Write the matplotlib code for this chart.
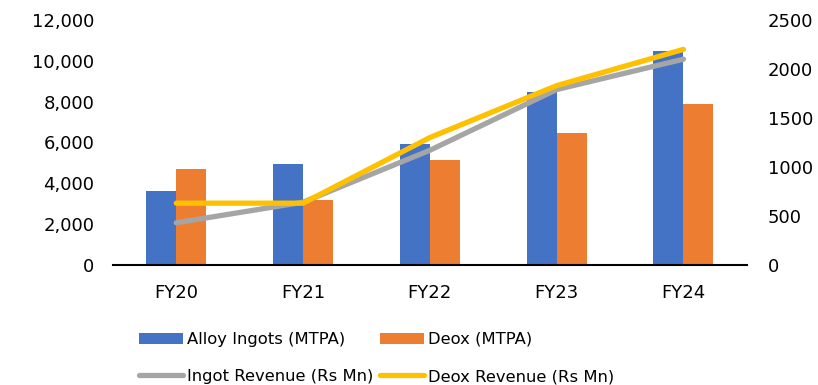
import matplotlib
matplotlib.use("Agg")
import matplotlib.pyplot as plt
import numpy as np

years = ["FY20", "FY21", "FY22", "FY23", "FY24"]
alloy_ingots = [3600, 4950, 5930, 8480, 10500]
deox = [4700, 3200, 5130, 6470, 7860]
ingot_revenue = [430, 640, 1170, 1790, 2100]
deox_revenue = [630, 630, 1300, 1830, 2200]

left_ticks = [0, 2000, 4000, 6000, 8000, 10000, 12000]
right_ticks = [0, 500, 1000, 1500, 2000, 2500]

BLUE = "#4472C4"
ORANGE = "#ED7D31"
GRAY = "#A5A5A5"
GOLD = "#FFC000"

plt.rcParams["font.family"] = ["DejaVu Sans"]
fs = 13
lfs = 11.8

fig = plt.figure(figsize=(8.18, 3.85), dpi=100)
ax = fig.add_axes([0.138, 0.312, 0.775, 0.636])
ax2 = ax.twinx()

x = np.arange(len(years))
w = 0.237
b1 = ax.bar(x - w / 2, alloy_ingots, w, color=BLUE, label="Alloy Ingots (MTPA)", zorder=2)
b2 = ax.bar(x + w / 2, deox, w, color=ORANGE, label="Deox (MTPA)", zorder=2)

l1, = ax2.plot(x, ingot_revenue, color=GRAY, lw=3.8, solid_capstyle="round",
               solid_joinstyle="round", label="Ingot Revenue (Rs Mn)", zorder=3)
l2, = ax2.plot(x, deox_revenue, color=GOLD, lw=3.8, solid_capstyle="round",
               solid_joinstyle="round", label="Deox Revenue (Rs Mn)", zorder=4)

ax.set_xlim(-0.5, len(years) - 0.5)
ax.set_ylim(0, 12000)
ax2.set_ylim(0, 2500)
ax.set_xticks(x)
ax.set_xticklabels(years, fontsize=fs)
ax.set_yticks(left_ticks)
ax.set_yticklabels([f"{v:,}" for v in left_ticks], fontsize=fs)
ax2.set_yticks(right_ticks)
ax2.set_yticklabels([str(v) for v in right_ticks], fontsize=fs)

for a in (ax, ax2):
    for s in ("top", "left", "right", "bottom"):
        a.spines[s].set_visible(False)
ax.spines["bottom"].set_visible(True)
ax.spines["bottom"].set_color("black")
ax.spines["bottom"].set_linewidth(1.5)
ax.tick_params(axis="both", length=0, colors="black")
ax.tick_params(axis="y", pad=13.5)
ax.tick_params(axis="x", pad=14)
ax2.tick_params(axis="y", length=0, pad=15)

fig.legend([b1, l1, b2, l2],
           ["Alloy Ingots (MTPA)", "Ingot Revenue (Rs Mn)", "Deox (MTPA)", "Deox Revenue (Rs Mn)"],
           ncol=2, frameon=False, fontsize=lfs, loc="upper left",
           bbox_to_anchor=(0.162, 0.155), handlelength=2.7, handleheight=0.65,
           handletextpad=0.25, columnspacing=0.35, labelspacing=1.35, borderaxespad=0)

fig.savefig("out.png", dpi=100)
